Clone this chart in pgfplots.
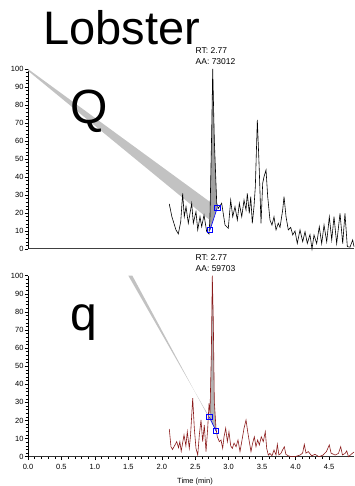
\documentclass[border=0pt]{standalone}
\usepackage{fontspec}
\setmainfont{Liberation Sans}
\usepackage{pgfplots}
\pgfplotsset{compat=1.18}
\definecolor{trred}{HTML}{8B1A1A}
\definecolor{wedge}{HTML}{C2C2C2}
\definecolor{pkfill}{HTML}{A0A0A0}
\begin{document}
\begin{tikzpicture}[x=1bp,y=1bp]
\useasboundingbox (0,0) rectangle (354,486);
\pgfplotsset{every axis/.append style={
  scale only axis, width=326bp, xmin=0, xmax=4.873, ymin=0, ymax=100,
  axis y line=left, axis x line=bottom, axis line style={-},
  clip=false, tick align=outside,
  ytick={0,10,...,100}, minor y tick num=4,
  major tick length=3.5bp, minor tick length=2.5bp,
  tick style={black, line width=0.5pt},
  /pgf/number format/assume math mode=true,
  tick label style={font=\fontsize{7.5bp}{8bp}\selectfont, inner sep=0.8bp},
  yticklabel style={/pgf/number format/fixed},
}}
% ---------- top panel
\begin{axis}[at={(28bp,237bp)}, anchor=south west, height=180bp,
  xtick=\empty, x axis line style={line width=1pt, black!75}]
\addplot[fill=wedge, draw=none] coordinates {(0,100)(2.80,24)(2.72,16)(0,99)};
\addplot[fill=pkfill, draw=none] coordinates {(2.72,10.5)(2.720,17.9)(2.746,66.1)(2.761,100)(2.785,60.6)(2.821,25.4)(2.83,23)};
\addplot[black, line width=0.6pt] coordinates {
(2.112,25.0)(2.15,18)(2.212,10.6)(2.247,8.4)(2.283,15.2)(2.312,30.9)(2.336,17.9)(2.362,23.5)(2.396,14.3)(2.447,25.4)(2.471,14.3)(2.511,20.7)(2.537,10.6)(2.571,17.9)(2.596,12.4)(2.631,18.9)(2.671,9.6)(2.706,8.3)(2.720,17.9)(2.746,66.1)(2.761,100)(2.785,60.6)(2.821,25.4)(2.845,22.6)(2.895,25.4)(2.945,13.3)(2.994,11.5)(3.030,27.2)(3.060,17.9)(3.094,23.5)(3.129,16.1)(3.159,25.4)(3.195,17.9)(3.229,27.2)(3.259,21.7)(3.278,30.9)(3.308,19.8)(3.329,29.1)(3.353,14.3)(3.378,23.5)(3.398,34.6)(3.428,71.7)(3.457,43.9)(3.483,14.3)(3.508,36.5)(3.528,40.2)(3.558,43.9)(3.583,29.1)(3.617,16.1)(3.647,13.3)(3.677,17.9)(3.707,10.6)(3.741,14.3)(3.767,12)(3.807,21.7)(3.827,29.1)(3.857,17.9)(3.891,10.6)(3.927,12)(3.957,7.8)(3.991,10)(4.025,3.1)(4.066,10.6)(4.106,4.1)(4.141,9.6)(4.175,3.1)(4.215,8)(4.245,0)(4.275,7.8)(4.315,3)(4.354,12.4)(4.39,3)(4.425,13.3)(4.465,4)(4.504,17.9)(4.54,5)(4.574,17.9)(4.614,3)(4.664,19.8)(4.704,3)(4.738,19.8)(4.773,1.3)(4.813,1)(4.853,5)(4.873,1.3)};
\addplot[blue, line width=0.6pt, mark=square, mark size=2.6bp] coordinates {(2.72,10.5)(2.83,23)};
\end{axis}
% ---------- bottom panel
\begin{axis}[at={(28bp,29.3bp)}, anchor=south west, height=181bp,
  xtick={0,0.5,...,4.5}, minor x tick num=4,
  xticklabel style={/pgf/number format/fixed, /pgf/number format/fixed zerofill, /pgf/number format/precision=1, yshift=-3bp},
  x axis line style={line width=0.8pt, black!80}]
\addplot[fill=wedge, draw=none] coordinates {(1.50,100)(1.56,100)(2.81,14.2)(2.71,22)};
\addplot[fill=pkfill!80, draw=none] coordinates {(2.71,22)(2.720,24)(2.740,56)(2.755,100)(2.770,74.6)(2.785,30.4)(2.81,15.7)(2.81,14.2)};
\addplot[trred, line width=0.6pt] coordinates {
(2.112,15.3)(2.137,5.5)(2.16,4)(2.197,6.5)(2.223,8.3)(2.25,5)(2.27,8.3)(2.29,3)(2.332,12)(2.36,6)(2.381,13.8)(2.411,4.6)(2.43,12)(2.462,32.3)(2.486,15.7)(2.511,4.6)(2.537,0.9)(2.561,12)(2.586,20.3)(2.611,8.3)(2.635,17.5)(2.661,2.8)(2.686,15.7)(2.706,29.5)(2.720,24)(2.740,56)(2.755,100)(2.770,74.6)(2.785,30.4)(2.81,15.7)(2.830,11)(2.86,8.3)(2.885,9.2)(2.910,4.6)(2.93,11)(2.955,15.7)(2.98,8.3)(3.004,13.8)(3.03,6)(3.054,4.6)(3.08,7.5)(3.11,5.5)(3.139,9.2)(3.169,2.8)(3.199,9.2)(3.229,15.7)(3.259,20.3)(3.284,13.8)(3.308,8.3)(3.333,2.8)(3.358,7.5)(3.383,11)(3.408,5.5)(3.433,9.2)(3.458,6.5)(3.487,11)(3.517,8.3)(3.547,13.8)(3.568,4.6)(3.592,0.9)(3.617,1.8)(3.647,0.5)(3.677,3.7)(3.707,1)(3.727,6.8)(3.75,1)(3.78,1.8)(3.805,3.7)(3.831,5.5)(3.855,1.3)(3.89,0.5)(3.941,0)(3.99,0)(4.066,0.9)(4.105,2)(4.13,6.8)(4.155,2)(4.19,2.8)(4.24,0.5)(4.29,1.3)(4.35,0)(4.41,0.9)(4.46,2.8)(4.504,6.5)(4.53,2)(4.59,0.9)(4.64,1.8)(4.674,5.5)(4.70,1)(4.74,1.8)(4.764,3.2)(4.79,0)(4.83,1.3)(4.873,2.6)};
\addplot[blue, line width=0.6pt, mark=square, mark size=2.6bp] coordinates {(2.71,22)(2.81,14.2)};
\end{axis}
% ---------- texts
\node[anchor=base west, inner sep=0, font=\fontsize{47bp}{47bp}\selectfont] at (43,441) {Lobster};
\node[anchor=base west, inner sep=0, font=\fontsize{48bp}{48bp}\selectfont] at (70.5,362) {Q};
\node[anchor=base west, inner sep=0, font=\fontsize{48bp}{48bp}\selectfont] at (70,155.5) {q};
\node[anchor=base west, inner sep=0, font=\fontsize{8.5bp}{9bp}\selectfont] at (195.5,432) {RT: 2.77};
\node[anchor=base west, inner sep=0, font=\fontsize{8.5bp}{9bp}\selectfont] at (195.5,421.5) {AA: 73012};
\node[anchor=base west, inner sep=0, font=\fontsize{8.5bp}{9bp}\selectfont] at (195.5,225) {RT: 2.77};
\node[anchor=base west, inner sep=0, font=\fontsize{8.5bp}{9bp}\selectfont] at (195.5,214) {AA: 59703};
\node[anchor=base, inner sep=0, font=\fontsize{7.5bp}{8bp}\selectfont] at (195,2.5) {Time (min)};
\end{tikzpicture}
\end{document}
